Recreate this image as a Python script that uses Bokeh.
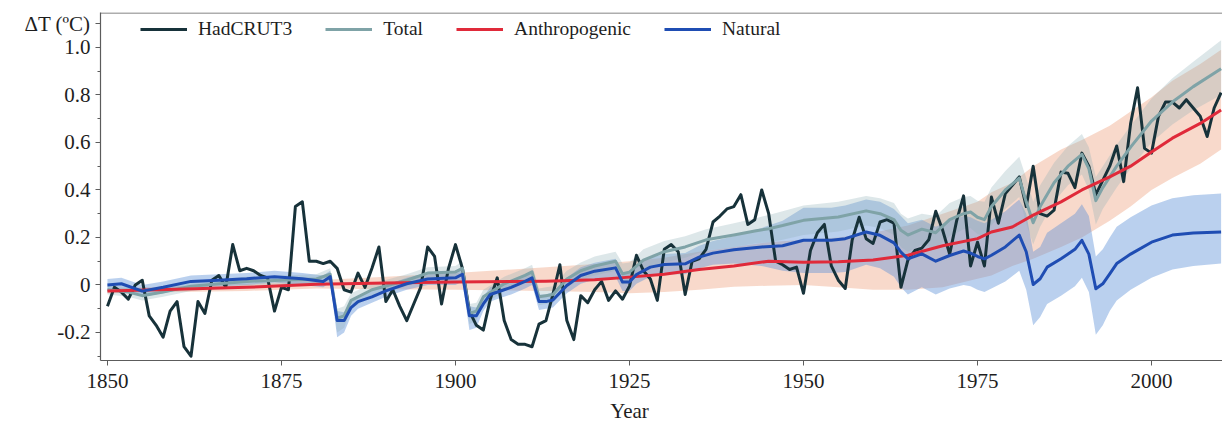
from bokeh.plotting import figure
from bokeh.models import (Range1d, FixedTicker, CustomJSTickFormatter, Legend, LegendItem,
                          Span, LinearAxis)
from bokeh.embed import file_html
from bokeh.resources import INLINE

# ---------------- data ----------------
years = list(range(1850, 2011))
hadcrut3 = [
    -0.09, -0.01, -0.03, -0.06, 0.00, 0.02, -0.13, -0.17, -0.22, -0.11,   # 1850-59
    -0.07, -0.26, -0.30, -0.07, -0.12, 0.02, 0.04, -0.01, 0.17, 0.06,     # 1860-69
    0.07, 0.06, 0.04, 0.03, -0.11, -0.01, -0.02, 0.33, 0.35, 0.10,        # 1870-79
    0.10, 0.09, 0.10, 0.07, -0.02, -0.03, 0.05, -0.01, 0.07, 0.16,        # 1880-89
    -0.07, -0.02, -0.09, -0.15, -0.08, -0.01, 0.16, 0.12, -0.08, 0.07,    # 1890-99
    0.17, 0.07, -0.11, -0.17, -0.19, -0.06, 0.03, -0.15, -0.23, -0.25,    # 1900-09
    -0.25, -0.26, -0.165, -0.15, -0.04, 0.085, -0.15, -0.23, -0.045, -0.075,  # 1910-19
    -0.02, 0.015, -0.065, -0.025, -0.06, -0.005, 0.125, 0.06, 0.025, -0.065,  # 1920-29
    0.15, 0.17, 0.14, -0.04, 0.10, 0.11, 0.15, 0.265, 0.29, 0.32,         # 1930-39
    0.33, 0.38, 0.255, 0.275, 0.40, 0.30, 0.10, 0.085, 0.065, 0.075,      # 1940-49
    -0.035, 0.145, 0.22, 0.255, 0.08, 0.02, -0.015, 0.19, 0.285, 0.195,   # 1950-59
    0.175, 0.265, 0.275, 0.26, -0.01, 0.105, 0.145, 0.155, 0.19, 0.31,    # 1960-69
    0.23, 0.13, 0.27, 0.375, 0.08, 0.18, 0.08, 0.37, 0.26, 0.385,         # 1970-79
    0.42, 0.455, 0.33, 0.50, 0.30, 0.29, 0.315, 0.475, 0.47, 0.41,        # 1980-89
    0.555, 0.50, 0.38, 0.44, 0.50, 0.585, 0.435, 0.68, 0.83, 0.575,       # 1990-99
    0.555, 0.71, 0.77, 0.77, 0.745, 0.78, 0.745, 0.71, 0.625, 0.745,      # 2000-09
    0.81,                                                                 # 2010
]

tot_years = [1850, 1853, 1855, 1858, 1862, 1866, 1870, 1875, 1880, 1882,
             1883, 1884, 1885, 1888, 1893, 1896, 1900, 1901, 1902, 1903,
             1904, 1907, 1910, 1911, 1912, 1913, 1914, 1916, 1918, 1920,
             1923, 1924, 1925, 1927, 1930, 1933, 1936, 1940, 1943, 1945,
             1947, 1950, 1955, 1959, 1961, 1963, 1964, 1965, 1967, 1969,
             1971, 1973, 1974, 1975, 1976, 1977, 1979, 1981, 1982, 1983,
             1984, 1986, 1988, 1990, 1991, 1992, 1993, 1995, 1997, 2000,
             2003, 2006, 2010]
total = [-0.02, -0.03, -0.045, -0.03, -0.005, 0.005, 0.015, 0.02, 0.025, 0.045,
         -0.14, -0.13, -0.065, -0.02, 0.02, 0.05, 0.055, 0.07, -0.12, -0.11,
         -0.05, 0.005, 0.04, 0.055, -0.05, -0.045, -0.04, 0.025, 0.06, 0.08,
         0.10, 0.047, 0.054, 0.105, 0.14, 0.16, 0.19, 0.21, 0.227, 0.237,
         0.25, 0.272, 0.286, 0.312, 0.30, 0.275, 0.23, 0.21, 0.235, 0.22,
         0.275, 0.30, 0.307, 0.285, 0.275, 0.33, 0.40, 0.45, 0.35, 0.262,
         0.33, 0.43, 0.50, 0.55, 0.49, 0.355, 0.41, 0.50, 0.58, 0.69,
         0.77, 0.835, 0.91]
total_lo = [-0.04, -0.05, -0.065, -0.05, -0.025, -0.015, -0.005, 0.0, 0.005, 0.02,
            -0.2, -0.18, -0.1, -0.045, -0.005, 0.025, 0.03, 0.04, -0.165, -0.15,
            -0.085, -0.025, 0.01, 0.025, -0.085, -0.08, -0.075, -0.01, 0.025, 0.04,
            0.06, 0.0, 0.01, 0.06, 0.095, 0.115, 0.145, 0.16, 0.175, 0.18,
            0.19, 0.21, 0.225, 0.25, 0.24, 0.21, 0.16, 0.14, 0.17, 0.155,
            0.205, 0.235, 0.24, 0.215, 0.205, 0.25, 0.32, 0.37, 0.26, 0.17,
            0.245, 0.35, 0.42, 0.465, 0.40, 0.255, 0.32, 0.41, 0.49, 0.60,
            0.675, 0.735, 0.80]
total_hi = [0.0, -0.01, -0.025, -0.01, 0.015, 0.025, 0.035, 0.04, 0.045, 0.07,
            -0.1, -0.09, -0.035, 0.005, 0.045, 0.075, 0.08, 0.1, -0.08, -0.075,
            -0.02, 0.035, 0.07, 0.085, -0.015, -0.01, -0.005, 0.06, 0.095, 0.12,
            0.14, 0.09, 0.095, 0.15, 0.185, 0.205, 0.235, 0.26, 0.28, 0.295,
            0.31, 0.335, 0.35, 0.375, 0.365, 0.345, 0.30, 0.28, 0.30, 0.29,
            0.345, 0.37, 0.375, 0.355, 0.35, 0.41, 0.48, 0.54, 0.45, 0.35,
            0.42, 0.515, 0.585, 0.635, 0.58, 0.455, 0.50, 0.59, 0.67, 0.785,
            0.87, 0.94, 1.03]

anth_years = [1850, 1860, 1870, 1880, 1890, 1900, 1913, 1920, 1925, 1930,
              1935, 1940, 1945, 1950, 1955, 1960, 1965, 1970, 1975, 1977,
              1980, 1983, 1987, 1990, 1994, 1997, 2000, 2003, 2007, 2010]
anthropogenic = [-0.025, -0.018, -0.01, 0.003, 0.008, 0.012, 0.016, 0.022, 0.033, 0.045,
                 0.065, 0.08, 0.10, 0.096, 0.098, 0.105, 0.125, 0.165, 0.195, 0.223,
                 0.244, 0.294, 0.35, 0.40, 0.455, 0.50, 0.56, 0.618, 0.68, 0.737]
anth_lo = [-0.035, -0.03, -0.025, -0.015, -0.018, -0.02, -0.025, -0.03, -0.035, -0.03,
           -0.02, -0.008, -0.003, 0.0, -0.01, -0.02, -0.02, -0.01, 0.026, 0.04,
           0.08, 0.11, 0.16, 0.20, 0.27, 0.33, 0.40, 0.45, 0.51, 0.57]
anth_hi = [-0.015, -0.005, 0.005, 0.02, 0.035, 0.05, 0.075, 0.088, 0.10, 0.115,
           0.14, 0.16, 0.18, 0.19, 0.20, 0.22, 0.25, 0.30, 0.35, 0.39,
           0.43, 0.50, 0.57, 0.61, 0.67, 0.73, 0.79, 0.86, 0.93, 0.99]

nat_years = [1850, 1852, 1855, 1858, 1862, 1866, 1870, 1874, 1878, 1881,
             1882, 1883, 1884, 1885, 1886, 1888, 1890, 1893, 1896, 1900,
             1901, 1902, 1903, 1904, 1905, 1907, 1908, 1910, 1911, 1912,
             1913, 1914, 1916, 1918, 1920, 1923, 1924, 1925, 1926, 1928,
             1930, 1933, 1935, 1937, 1940, 1944, 1947, 1950, 1954, 1956,
             1959, 1961, 1963, 1964, 1965, 1967, 1969, 1971, 1973, 1974,
             1975, 1976, 1977, 1979, 1981, 1982, 1983, 1984, 1985, 1987,
             1989, 1990, 1991, 1992, 1993, 1994, 1995, 1997, 2000, 2003,
             2006, 2010]
natural = [0.0, 0.005, -0.026, -0.01, 0.015, 0.02, 0.026, 0.035, 0.026, 0.015,
           0.035, -0.15, -0.15, -0.095, -0.07, -0.05, -0.025, 0.005, 0.025, 0.03,
           0.045, -0.13, -0.13, -0.08, -0.04, -0.02, -0.01, 0.015, 0.03, -0.07,
           -0.07, -0.063, -0.002, 0.04, 0.058, 0.072, 0.012, 0.012, 0.044, 0.075,
           0.086, 0.089, 0.117, 0.134, 0.148, 0.16, 0.165, 0.188, 0.188, 0.195,
           0.223, 0.209, 0.177, 0.138, 0.11, 0.131, 0.10, 0.124, 0.143, 0.134,
           0.12, 0.11, 0.125, 0.16, 0.21, 0.14, 0.002, 0.026, 0.075, 0.11,
           0.15, 0.188, 0.13, -0.016, 0.005, 0.047, 0.09, 0.13, 0.18, 0.21,
           0.219, 0.223]
nat_lo = [-0.025, -0.02, -0.05, -0.035, -0.01, -0.005, 0.0, 0.01, 0.0, -0.01,
          0.01, -0.22, -0.20, -0.13, -0.10, -0.075, -0.05, -0.02, 0.0, 0.0,
          0.015, -0.19, -0.18, -0.11, -0.07, -0.05, -0.04, -0.015, 0.0, -0.105,
          -0.10, -0.095, -0.035, 0.005, 0.023, 0.035, -0.025, -0.025, 0.005, 0.035,
          0.045, 0.045, 0.07, 0.085, 0.09, 0.08, 0.06, 0.05, 0.05, 0.055,
          0.085, 0.07, 0.035, -0.01, -0.04, -0.01, -0.04, -0.015, 0.0, -0.005,
          -0.02, -0.03, -0.015, 0.015, 0.06, -0.02, -0.17, -0.135, -0.08, -0.045,
          -0.005, 0.03, -0.03, -0.21, -0.17, -0.11, -0.065, -0.02, 0.03, 0.065,
          0.08, 0.09]
nat_hi = [0.025, 0.03, 0.0, 0.015, 0.04, 0.045, 0.05, 0.06, 0.05, 0.04,
          0.06, -0.11, -0.115, -0.065, -0.045, -0.025, 0.0, 0.03, 0.05, 0.06,
          0.075, -0.09, -0.095, -0.05, -0.01, 0.01, 0.02, 0.045, 0.06, -0.04,
          -0.04, -0.03, 0.03, 0.075, 0.093, 0.11, 0.05, 0.05, 0.085, 0.115,
          0.13, 0.135, 0.165, 0.185, 0.205, 0.24, 0.27, 0.325, 0.325, 0.335,
          0.36, 0.35, 0.32, 0.29, 0.26, 0.275, 0.245, 0.27, 0.29, 0.285,
          0.27, 0.26, 0.275, 0.31, 0.36, 0.30, 0.14, 0.16, 0.22, 0.26,
          0.30, 0.34, 0.29, 0.12, 0.15, 0.20, 0.245, 0.285, 0.335, 0.365,
          0.378, 0.385]

x_ticks = [1850, 1875, 1900, 1925, 1950, 1975, 2000]
y_ticks = [-0.2, 0.0, 0.2, 0.4, 0.6, 0.8, 1.0, 1.1]   # 1.1 carries the unit label
y_minor = [-0.3, -0.1, 0.1, 0.3, 0.5, 0.7, 0.9]
y_unit = "ΔT (ºC)"
x_title = "Year"
x_title_at = 1925

# ---------------- styling ----------------
FONT = "Liberation Serif"
AXIS = "#5c5c5c"
TXT = "#1e1e1e"
C_HAD = "#17323a"
C_TOT = "#7fa3a7"
C_ANT = "#e02a3a"
C_NAT = "#1f4db3"

Y0, Y1 = -0.318, 1.147

p = figure(width=1222, height=427, output_backend="svg", toolbar_location=None,
           x_range=Range1d(1849.0, 2010.2), y_range=Range1d(Y0, Y1),
           min_border_left=100, min_border_right=0, min_border_top=12, min_border_bottom=67,
           background_fill_color="white", border_fill_color="white")
p.outline_line_color = None
p.xgrid.visible = False
p.ygrid.visible = False

p.varea(x=anth_years, y1=anth_lo, y2=anth_hi, fill_color="#ee9f7c", fill_alpha=0.4)
p.varea(x=nat_years, y1=nat_lo, y2=nat_hi, fill_color="#5a8ed6", fill_alpha=0.42)
p.varea(x=tot_years, y1=total_lo, y2=total_hi, fill_color="#8fb0b5", fill_alpha=0.3)

r_h = p.line(years, hadcrut3, line_color=C_HAD, line_width=3, line_join="round")
r_t = p.line(tot_years, total, line_color=C_TOT, line_width=3, line_join="round")
r_a = p.line(anth_years, anthropogenic, line_color=C_ANT, line_width=3, line_join="round")
r_n = p.line(nat_years, natural, line_color=C_NAT, line_width=3, line_join="round")

legend = Legend(items=[LegendItem(label="HadCRUT3", renderers=[r_h]),
                       LegendItem(label="Total", renderers=[r_t]),
                       LegendItem(label="Anthropogenic", renderers=[r_a]),
                       LegendItem(label="Natural", renderers=[r_n])],
                orientation="horizontal", location=(40, 320), padding=0, margin=0,
                spacing=33, glyph_width=47, glyph_height=20, label_standoff=11,
                label_height=20, label_text_font=FONT, label_text_font_size="19.5px",
                label_text_color=TXT, border_line_color=None, background_fill_alpha=0.0)
p.add_layout(legend)

xa = p.xaxis[0]
ya = p.yaxis[0]
xa.ticker = FixedTicker(ticks=x_ticks)
ya.ticker = FixedTicker(ticks=y_ticks, minor_ticks=y_minor)
ya.formatter = CustomJSTickFormatter(
    args=dict(unit=y_unit),
    code="if (tick > 1.05) { return unit; } return Math.abs(tick) < 1e-9 ? '0' : tick.toFixed(1);")
for ax in (xa, ya):
    ax.axis_line_color = AXIS
    ax.axis_line_width = 1.2
    ax.major_tick_line_color = AXIS
    ax.major_tick_out = 5
    ax.major_tick_in = 0
    ax.minor_tick_line_color = AXIS
    ax.minor_tick_out = 3
    ax.minor_tick_in = 0
    ax.major_label_text_font = FONT
    ax.major_label_text_font_size = "21px"
    ax.major_label_text_color = TXT
xa.minor_tick_line_color = None
xa.major_label_standoff = 8
ya.major_label_standoff = 5

# axis title "Year", centred under the 1925 tick as in the reference
title_axis = LinearAxis(ticker=FixedTicker(ticks=[x_title_at]),
                        formatter=CustomJSTickFormatter(args=dict(t=x_title), code="return t;"),
                        axis_line_color=None, major_tick_line_color=None,
                        minor_tick_line_color=None, major_tick_out=0, major_tick_in=0,
                        major_label_standoff=8, major_label_text_font=FONT,
                        major_label_text_font_size="21px", major_label_text_color=TXT)
p.add_layout(title_axis, "below")

p.add_layout(Span(location=Y1 - 0.002, dimension="width", line_color=AXIS, line_width=1.2))

open("out.html", "w").write(file_html(p, INLINE))
